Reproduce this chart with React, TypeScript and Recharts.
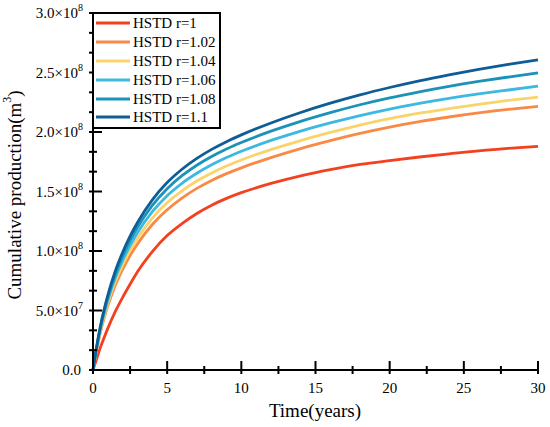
import { LineChart, Line, XAxis, YAxis } from 'recharts';

// time axis (years)
const times = [0, 0.25, 0.5, 0.75, 1, 1.5, 2, 2.5, 3, 4, 5, 6, 7, 8, 9, 10, 12, 14, 16, 18, 20, 22, 24, 26, 28, 30];

// cumulative production, in units of 1e8 m3
const r100 = [0, 0.095, 0.19, 0.272, 0.35, 0.49, 0.61, 0.72, 0.825, 0.995, 1.13, 1.23, 1.315, 1.385, 1.442, 1.49, 1.568, 1.632, 1.684, 1.727, 1.76, 1.79, 1.817, 1.842, 1.862, 1.88];
const r102 = [0, 0.171, 0.316, 0.436, 0.539, 0.71, 0.846, 0.962, 1.06, 1.223, 1.347, 1.445, 1.526, 1.593, 1.65, 1.699, 1.785, 1.861, 1.928, 1.988, 2.041, 2.087, 2.126, 2.16, 2.19, 2.215];
const r104 = [0, 0.179, 0.33, 0.455, 0.563, 0.741, 0.884, 1.005, 1.107, 1.277, 1.406, 1.506, 1.588, 1.656, 1.714, 1.765, 1.852, 1.928, 1.996, 2.058, 2.113, 2.158, 2.197, 2.233, 2.265, 2.293];
const r106 = [0, 0.186, 0.344, 0.474, 0.586, 0.772, 0.921, 1.046, 1.153, 1.33, 1.465, 1.569, 1.653, 1.724, 1.785, 1.838, 1.929, 2.008, 2.076, 2.138, 2.193, 2.241, 2.283, 2.32, 2.353, 2.385];
const r108 = [0, 0.194, 0.358, 0.494, 0.61, 0.803, 0.958, 1.089, 1.2, 1.384, 1.524, 1.633, 1.721, 1.794, 1.857, 1.912, 2.007, 2.09, 2.163, 2.229, 2.287, 2.338, 2.384, 2.425, 2.462, 2.497];
const r110 = [0, 0.2, 0.37, 0.51, 0.63, 0.83, 0.99, 1.125, 1.24, 1.43, 1.575, 1.687, 1.778, 1.854, 1.919, 1.976, 2.076, 2.164, 2.242, 2.312, 2.374, 2.43, 2.48, 2.526, 2.568, 2.606];

const seriesNames = ['HSTD r=1', 'HSTD r=1.02', 'HSTD r=1.04', 'HSTD r=1.06', 'HSTD r=1.08', 'HSTD r=1.1'];
const seriesValues = [r100, r102, r104, r106, r108, r110];
const seriesColors = ['#F3401E', '#F98A45', '#FAD36A', '#3DB9E1', '#1B93B9', '#0E5D96'];

const xMajorTicks = [0, 5, 10, 15, 20, 25, 30];
const xTicks = [0, 2.5, 5, 7.5, 10, 12.5, 15, 17.5, 20, 22.5, 25, 27.5, 30];
const yMajorTicks = [0, 5e7, 1e8, 1.5e8, 2e8, 2.5e8, 3e8];
const yMinorTicks = [1.667e7, 3.333e7, 6.667e7, 8.333e7, 1.1667e8, 1.3333e8, 1.6667e8, 1.8333e8, 2.1667e8, 2.3333e8, 2.6667e8, 2.8333e8];

const data = times.map((t, i) => {
  const row: any = { t };
  seriesNames.forEach((name, k) => {
    row[name] = seriesValues[k][i] * 1e8;
  });
  return row;
});

const FONT = '"Liberation Serif", "Times New Roman", serif';

const YTick = (props: any) => {
  const { x, y, payload } = props;
  const v = payload.value;
  const major = yMajorTicks.includes(v);
  let label = null;
  if (major) {
    if (v === 0) {
      label = <text x={x - 12} y={y} textAnchor="end" dominantBaseline="central" fontSize={15} fontFamily={FONT} fill="#000">0.0</text>;
    } else {
      const exp = Math.floor(Math.log10(v));
      const mant = (v / Math.pow(10, exp)).toFixed(1);
      label = (
        <text x={x - 10} y={y} textAnchor="end" dominantBaseline="central" fontSize={15} fontFamily={FONT} fill="#000">
          {mant}×10<tspan fontSize={10} dy={-6}>{exp}</tspan>
        </text>
      );
    }
  }
  return (
    <g>
      <line x1={x - 4} x2={x + (major ? 9 : 4)} y1={y} y2={y} stroke="#000" strokeWidth={2} />
      {label}
    </g>
  );
};

const XTick = (props: any) => {
  const { x, y, payload } = props;
  const v = payload.value;
  const major = xMajorTicks.includes(v);
  return (
    <g>
      <line x1={x} x2={x} y1={y + 4} y2={y - (major ? 9 : 4)} stroke="#000" strokeWidth={2} />
      {major && (
        <text x={x} y={y + 18} textAnchor="middle" dominantBaseline="central" fontSize={15} fontFamily={FONT} fill="#000">
          {v}
        </text>
      )}
    </g>
  );
};

const LegendBox = () => (
  <div
    style={{
      position: 'absolute',
      left: 92,
      top: 12,
      border: '2px solid #000',
      background: '#fff',
      padding: '0 3px 0 2px',
      fontFamily: FONT,
      whiteSpace: 'nowrap',
    }}
  >
    {seriesNames.map((name, k) => (
      <div key={name} style={{ display: 'flex', alignItems: 'center', height: 18.8 }}>
        <svg width={34} height={6} style={{ marginRight: 3, display: 'block' }}>
          <line x1={0} x2={34} y1={3} y2={3} stroke={seriesColors[k]} strokeWidth={3} />
        </svg>
        <span style={{ fontSize: 15, color: '#000', lineHeight: '18px' }}>{name}</span>
      </div>
    ))}
  </div>
);

const App = () => {
  return (
    <div style={{ position: 'absolute', left: 0, top: 0, width: 550, height: 427, background: '#fff' }}>
      <LineChart width={550} height={427} data={data} margin={{ top: 13, right: 12, left: 0, bottom: 0 }}>
        <XAxis
          dataKey="t"
          type="number"
          domain={[0, 30]}
          ticks={xTicks}
          interval={0}
          height={57}
          tickSize={0}
          tickMargin={0}
          tickLine={false}
          axisLine={{ stroke: '#000', strokeWidth: 2 }}
          tick={<XTick />}
          label={{
            content: () => (
              <text x={315} y={410} textAnchor="middle" dominantBaseline="central" fontSize={19} fontFamily={FONT} fill="#000">
                Time(years)
              </text>
            ),
          }}
        />
        <XAxis xAxisId="top" orientation="top" type="number" domain={[0, 30]} height={0} tick={false} tickLine={false} axisLine={{ stroke: '#000', strokeWidth: 2 }} />
        <YAxis
          type="number"
          domain={[0, 3e8]}
          ticks={[...yMajorTicks, ...yMinorTicks].sort((a, b) => a - b)}
          interval={0}
          width={93}
          tickSize={0}
          tickMargin={0}
          tickLine={false}
          axisLine={{ stroke: '#000', strokeWidth: 2 }}
          tick={<YTick />}
          label={{
            content: () => (
              <text
                x={14}
                y={195}
                transform="rotate(-90 14 195)"
                textAnchor="middle"
                dominantBaseline="central"
                fontSize={19}
                fontFamily={FONT}
                fill="#000"
              >
                Cumulative production(m<tspan fontSize={12} dy={-7}>3</tspan><tspan dy={7}>)</tspan>
              </text>
            ),
          }}
        />
        <YAxis yAxisId="right" orientation="right" type="number" domain={[0, 3e8]} width={0} tick={false} tickLine={false} axisLine={{ stroke: '#000', strokeWidth: 2 }} />
        {seriesNames.map((name, k) => (
          <Line
            key={name}
            type="monotone"
            dataKey={name}
            stroke={seriesColors[k]}
            strokeWidth={2.8}
            dot={false}
            isAnimationActive={false}
          />
        ))}
      </LineChart>
      <LegendBox />
    </div>
  );
};

export default App;
